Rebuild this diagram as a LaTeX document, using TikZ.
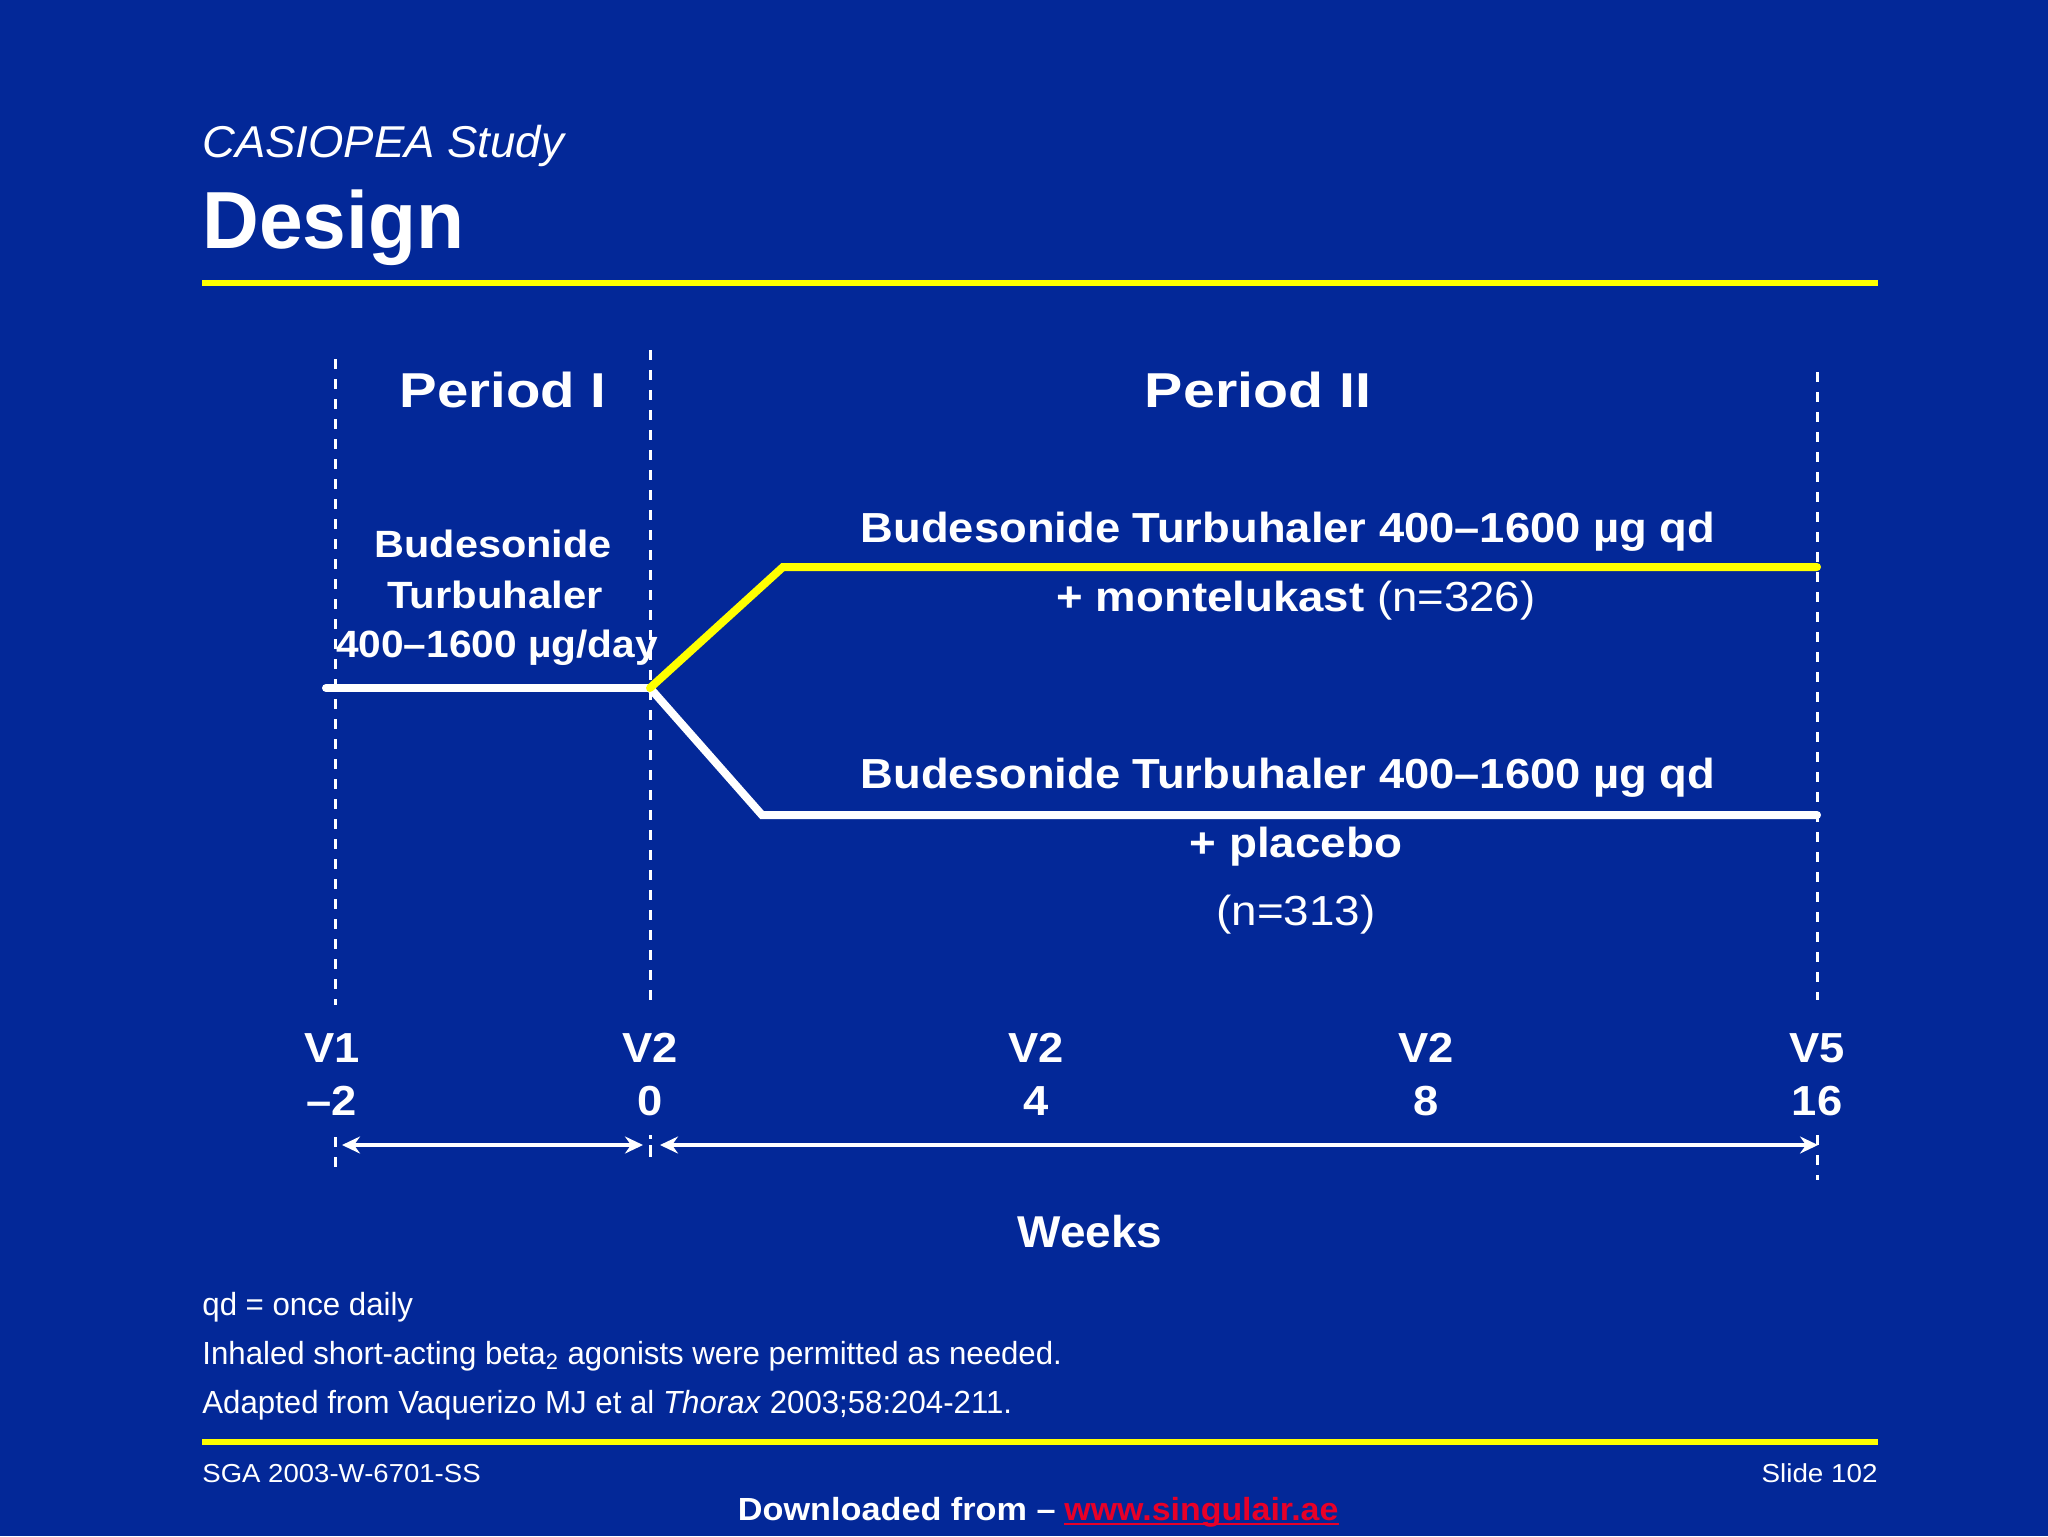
\documentclass[tikz,border=0pt]{standalone}
\usepackage{fontspec}
\setmainfont{Liberation Sans}
\usetikzlibrary{arrows.meta}
\definecolor{bg}{RGB}{3,40,152}
\definecolor{hl}{RGB}{255,255,0}
\definecolor{lnk}{RGB}{232,0,40}
\newcommand\fsz[1]{\fontsize{#1}{#1}\selectfont}
\newcommand\sx[2]{\scalebox{#1}[1]{#2}}
\tikzset{
  txt/.style={text=white, inner sep=0pt, anchor=base},
  guide/.style={white, line width=1.5pt, dash pattern=on 5pt off 5pt},
  armline/.style={line width=4pt, line join=miter, line cap=round},
  span/.style={white, line width=1.6pt, {Stealth[length=9pt,width=8.5pt,inset=3pt]}-{Stealth[length=9pt,width=8.5pt,inset=3pt]}}
}
\begin{document}
\begin{tikzpicture}[x=0.5pt,y=-0.5pt]
\fill[bg] (0,0) rectangle (2048,1536);
\useasboundingbox (0,0) rectangle (2048,1536);

% header
\node[txt, anchor=base west] (study) at (202,157) {\fsz{22.3}\sx{1.02}{\itshape CASIOPEA Study}};
\node[txt, anchor=base west] (title) at (202,248) {\fsz{40.5}\sx{0.97}{\bfseries Design}};
\draw[hl, line width=3pt] (202,283) -- (1878,283);

% guides
\draw[guide] (335,359) -- (335,1005);
\draw[guide] (650,350) -- (650,1000);
\draw[guide] (1817,372) -- (1817,1000);
\draw[guide] (335,1137) -- (335,1170);
\draw[guide, dash pattern=on 2pt off 3pt on 6pt off 4pt] (650,1135) -- (650,1160);
\draw[guide] (1817,1135) -- (1817,1180);

% period headings
\node[txt] (p1) at (503,407) {\fsz{24.5}\sx{1.15}{\bfseries Period I}};
\node[txt] (p2) at (1258,407) {\fsz{24.5}\sx{1.17}{\bfseries Period II}};

% period I label
\node[txt] (b1) at (493,557) {\fsz{19}\sx{1.09}{\bfseries Budesonide}};
\node[txt] (b2) at (495,608) {\fsz{19}\sx{1.10}{\bfseries Turbuhaler}};
\node[txt] (b3) at (497,657) {\fsz{19}\sx{1.07}{\bfseries 400–1600 µg/day}};

% arms
\coordinate (start) at (326,688);
\coordinate (split) at (650,688);
\coordinate (upbend) at (783,567);
\coordinate (upend) at (1817,567);
\coordinate (lobend) at (762,815);
\coordinate (loend) at (1817,815);
\draw[armline, white] (start) -- (split);
\draw[armline, white] (split) -- (lobend) -- (loend);
\draw[armline, hl] (split) -- (upbend) -- (upend);

% arm labels
\node[txt] (u1) at (1288,542) {\fsz{21}\sx{1.08}{\bfseries Budesonide Turbuhaler 400–1600 µg qd}};
\node[txt] (u2) at (1296,611) {\fsz{21}\sx{1.085}{{\bfseries + montelukast} (n=326)}};
\node[txt] (l1) at (1288,788) {\fsz{21}\sx{1.08}{\bfseries Budesonide Turbuhaler 400–1600 µg qd}};
\node[txt] (l2) at (1296,857) {\fsz{21}\sx{1.09}{\bfseries + placebo}};
\node[txt] (l3) at (1296,925) {\fsz{21}\sx{1.09}{(n=313)}};

% visits
\foreach \n/\x/\v/\w in {v1/332/V1/–2, v2a/650/V2/0, v2b/1036/V2/4, v2c/1426/V2/8, v5/1817/V5/16}{
  \node[txt] (\n) at (\x,1062) {\fsz{21}\sx{1.08}{\bfseries \v}};
  \node[txt] (\n w) at (\x,1115) {\fsz{21}\sx{1.08}{\bfseries \w}};
}

% spans
\coordinate (a1) at (342,1145);
\coordinate (a2) at (643,1145);
\coordinate (a3) at (660,1145);
\coordinate (a4) at (1818,1145);
\draw[span] (a1) -- (a2);
\draw[span] (a3) -- (a4);

\node[txt] (weeks) at (1090,1247) {\fsz{22.3}\sx{1.03}{\bfseries Weeks}};

% footnotes
\node[txt, anchor=base west] (f1) at (202,1315) {\fsz{16}\sx{0.975}{qd = once daily}};
\node[txt, anchor=base west] (f2) at (202,1364) {\fsz{16}\sx{0.975}{Inhaled short-acting beta\textsubscript{2} agonists were permitted as needed.}};
\node[txt, anchor=base west] (f3) at (202,1413) {\fsz{16}\sx{0.975}{Adapted from Vaquerizo MJ et al \textit{Thorax} 2003;58:204-211.}};

\draw[hl, line width=3pt] (202,1442) -- (1878,1442);

\node[txt, anchor=base west] (sga) at (202,1482) {\fsz{13}\sx{1.06}{SGA 2003-W-6701-SS}};
\node[txt, anchor=base east] (slide) at (1878,1482) {\fsz{13}\sx{1.07}{Slide 102}};

\node[txt, anchor=base east] (dl) at (1056,1520) {\fsz{16}\sx{1.07}{\bfseries Downloaded from –}};
\node[txt, anchor=base west, text=lnk] (link) at (1064,1520) {\fsz{16}\sx{1.06}{\bfseries www.singulair.ae}};
\draw[lnk, line width=1.3pt] ([yshift=-2pt]link.base west) -- ([yshift=-2pt]link.base east);
\end{tikzpicture}
\end{document}
